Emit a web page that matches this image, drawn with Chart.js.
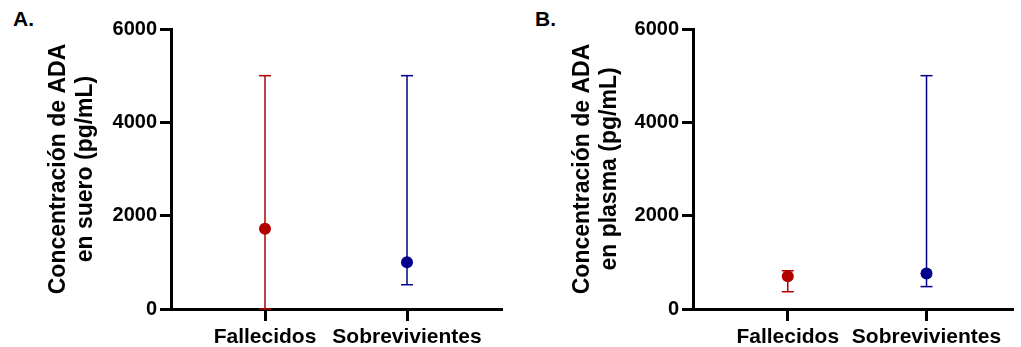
<!DOCTYPE html>
<html><head><meta charset="utf-8">
<script src="https://cdn.jsdelivr.net/npm/chart.js@4/dist/chart.umd.min.js"></script>
<style>
html,body{margin:0;padding:0;background:#fff;width:1021px;height:347px;overflow:hidden;position:relative;}
.panel{position:absolute;top:0;height:347px;}
#pa{left:0;width:510px;} #pb{left:520px;width:501px;}
.lab{position:absolute;top:8px;font:bold 21px "Liberation Sans",Arial,sans-serif;line-height:21px;color:#000;}
</style></head><body>
<div class="lab" style="left:13px">A.</div>
<div class="lab" style="left:535px">B.</div>
<div class="panel" id="pa"><canvas id="ca" width="510" height="347"></canvas></div>
<div class="panel" id="pb"><canvas id="cb" width="501" height="347"></canvas></div>
<script>
const categories = ['Fallecidos', 'Sobrevivientes'];
const yTicks = [0, 2000, 4000, 6000];
const serumMean = [1720, 1000];
const serumLow = [0, 520];
const serumHigh = [5000, 5000];
const plasmaMean = [700, 760];
const plasmaLow = [370, 480];
const plasmaHigh = [820, 5000];
const colors = ['#B00000', '#00008B'];

const FONT = '"Liberation Sans", Arial, sans-serif';

function makeChart(id, means, lows, highs, title, xMin, xMax, yWidth, padRight, titlePad) {
  const datasets = [];
  categories.forEach((c, i) => {
    datasets.push({
      data: [{x: i + 1, y: lows[i]}, {x: i + 1, y: highs[i]}],
      showLine: true, borderColor: colors[i], borderWidth: 1.5,
      pointStyle: 'line', pointRadius: 6, pointBorderColor: colors[i], pointBorderWidth: 1.5,
      pointBackgroundColor: colors[i], clip: false, order: 2
    });
  });
  categories.forEach((c, i) => {
    datasets.push({
      data: [{x: i + 1, y: means[i]}],
      showLine: false, pointStyle: 'circle', pointRadius: 6,
      pointBackgroundColor: colors[i], pointBorderColor: colors[i], pointBorderWidth: 0,
      clip: false, order: 1
    });
  });
  return new Chart(document.getElementById(id), {
    type: 'scatter',
    data: { datasets },
    options: {
      responsive: false, animation: false, devicePixelRatio: 1,
      layout: { padding: { top: 29, left: 0, right: padRight, bottom: 0 } },
      plugins: { legend: { display: false }, tooltip: { enabled: false } },
      scales: {
        x: {
          type: 'linear', min: xMin, max: xMax,
          afterBuildTicks: s => { s.ticks = categories.map((c, i) => ({ value: i + 1 })); },
          afterFit: s => { s.height = 38; },
          ticks: { autoSkip: false, maxRotation: 0, minRotation: 0, padding: 4, color: '#000',
            font: { family: FONT, size: 21, weight: 'bold' },
            callback: v => categories[v - 1] },
          grid: { drawOnChartArea: false, drawTicks: true, tickLength: 12, tickColor: '#000', tickWidth: 3 },
          border: { color: '#000', width: 3 }
        },
        y: {
          min: yTicks[0], max: yTicks[yTicks.length - 1],
          afterBuildTicks: s => { s.ticks = yTicks.map(v => ({ value: v })); },
          afterFit: s => { s.width = yWidth; },
          ticks: { padding: 3, color: '#000', font: { family: FONT, size: 20, weight: 'bold' },
            callback: v => String(v) },
          grid: { drawOnChartArea: false, drawTicks: true, tickLength: 11, tickColor: '#000', tickWidth: 3 },
          border: { color: '#000', width: 3 },
          title: { display: true, text: title, color: '#000',
            font: { family: FONT, size: 23, weight: 'bold', lineHeight: 1.17 },
            padding: { top: titlePad, bottom: 0 } }
        }
      }
    }
  });
}

makeChart('ca', serumMean, serumLow, serumHigh, ['Concentración de ADA', 'en suero (pg/mL)'], 0.338, 2.669, 171, 8, 45);
makeChart('cb', plasmaMean, plasmaLow, plasmaHigh, ['Concentración de ADA', 'en plasma (pg/mL)'], 0.317, 2.627, 173, 0, 49);
</script>
</body></html>
